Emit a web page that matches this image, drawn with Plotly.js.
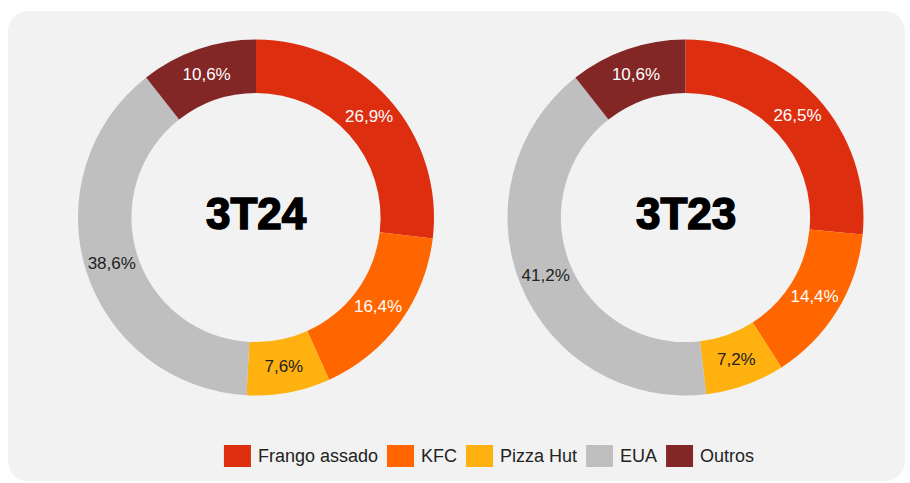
<!DOCTYPE html>
<html>
<head>
<meta charset="utf-8">
<script src="https://cdn.plot.ly/plotly-3.0.1.min.js"></script>
<style>
  html, body { margin: 0; padding: 0; background: #ffffff; width: 910px; height: 483px; overflow: hidden; }
  #bg { position: absolute; left: 8px; top: 11px; width: 897px; height: 470px; background: #f2f2f2; border-radius: 20px; }
  #chart { position: absolute; left: 0; top: 0; width: 910px; height: 483px; }
</style>
</head>
<body>
<div id="bg"></div>
<div id="chart"></div>
<script>
const categories = ["Frango assado", "KFC", "Pizza Hut", "EUA", "Outros"];
const periods = ["3T24", "3T23"];
const values3T24 = [26.9, 16.4, 7.6, 38.6, 10.6];
const values3T23 = [26.5, 14.4, 7.2, 41.2, 10.6];
const colors = ["#de2e10", "#ff6600", "#ffb10f", "#bfbfbf", "#822626"];
const textColors = ["#ffffff", "#ffffff", "#222222", "#222222", "#ffffff"];

function fmt(v) { return v.toFixed(1).replace(".", ",") + "%"; }

const FONT = "Arial, 'Liberation Sans', sans-serif";
const W = 910, H = 483;
const R = 178, cy = 217.5;
const centersX = [256, 685.5];
const seriesValues = [values3T24, values3T23];

const traces = seriesValues.map((vals, i) => ({
  type: "pie",
  labels: categories,
  values: vals,
  text: vals.map(fmt),
  textinfo: "text",
  hoverinfo: "label+text",
  textposition: "inside",
  insidetextorientation: "horizontal",
  textfont: { family: FONT, size: 17, color: textColors },
  sort: false,
  direction: "clockwise",
  rotation: 0,
  hole: 0.70,
  marker: { colors: colors, line: { width: 0 } },
  showlegend: false,
  domain: {
    x: [(centersX[i] - R) / W, (centersX[i] + R) / W],
    y: [1 - (cy + R) / H, 1 - (cy - R) / H]
  }
}));

const annotations = periods.map((p, i) => ({
  text: "<b>" + p + "</b>",
  x: centersX[i] / W,
  y: 1 - 213 / H,
  xref: "paper", yref: "paper",
  xanchor: "center", yanchor: "middle",
  showarrow: false,
  font: { family: FONT, size: 44, color: "#000000" }
}));

// Custom legend built from categories / colors
const ctx = document.createElement("canvas").getContext("2d");
ctx.font = "18px Arial, 'Liberation Sans', sans-serif";
const sqW = 27, sqH = 22, gapText = 5, gapItem = 11, legendCx = 488, legendCy = 456;
const widths = categories.map(c => ctx.measureText(c).width);
const total = widths.reduce((a, w) => a + sqW + gapText + w, 0) + gapItem * (categories.length - 1);
let xCur = legendCx - total / 2;
const shapes = [];
categories.forEach((c, k) => {
  shapes.push({
    type: "rect", xref: "paper", yref: "paper",
    x0: xCur / W, x1: (xCur + sqW) / W,
    y0: 1 - (legendCy + sqH / 2) / H, y1: 1 - (legendCy - sqH / 2) / H,
    fillcolor: colors[k], line: { width: 0 }
  });
  annotations.push({
    text: c, xref: "paper", yref: "paper",
    x: (xCur + sqW + gapText) / W, y: 1 - legendCy / H,
    xanchor: "left", yanchor: "middle", showarrow: false,
    font: { family: FONT, size: 18, color: "#222222" }
  });
  xCur += sqW + gapText + widths[k] + gapItem;
});

const layout = {
  width: W, height: H,
  margin: { l: 0, r: 0, t: 0, b: 0 },
  paper_bgcolor: "rgba(0,0,0,0)",
  plot_bgcolor: "rgba(0,0,0,0)",
  showlegend: false,
  annotations: annotations,
  shapes: shapes
};

Plotly.newPlot("chart", traces, layout, { displayModeBar: false, staticPlot: true }).then(gd => {
  gd.querySelectorAll(".annotation-text").forEach(t => {
    if (periods.includes(t.textContent)) {
      t.style.stroke = "#000";
      t.style.strokeWidth = "1.6px";
      t.style.paintOrder = "stroke";
    }
  });
});
</script>
</body>
</html>
